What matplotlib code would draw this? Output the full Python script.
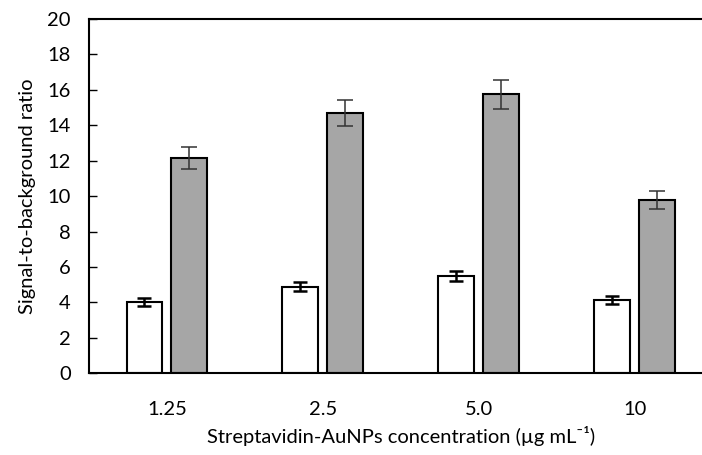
import matplotlib
matplotlib.use("Agg")
import matplotlib.pyplot as plt
import numpy as np

plt.rcParams["font.family"] = ["Lato", "DejaVu Sans"]

# values
concentrations = ["1.25", "2.5", "5.0", "10"]
white_vals = [4.02, 4.88, 5.50, 4.12]
white_err = [0.23, 0.25, 0.30, 0.22]
grey_vals = [12.18, 14.69, 15.74, 9.79]
grey_err = [0.62, 0.75, 0.80, 0.50]

x = np.arange(len(concentrations))
w = 0.23
off = 0.144

fig = plt.figure(figsize=(7.02, 4.55), dpi=100)
# axes run slightly past the right edge, as in the cropped original
ax = fig.add_axes([89 / 702, (455 - 373.3) / 455, (712.5 - 89) / 702, 354.3 / 455])

ax.bar(x - off, white_vals, w, color="white", edgecolor="black", linewidth=1.5, zorder=2)
ax.bar(x + off, grey_vals, w, color="#a6a6a6", edgecolor="black", linewidth=1.5, zorder=2)
ax.errorbar(x - off, white_vals, yerr=white_err, fmt="none", ecolor="black",
            elinewidth=1.8, capsize=5, capthick=1.8, zorder=3)
ax.errorbar(x + off, grey_vals, yerr=grey_err, fmt="none", ecolor="#333333",
            elinewidth=1.1, capsize=6, capthick=1.1, zorder=3)

ax.set_xlim(-0.5, len(x) - 0.5)
ax.set_ylim(0, 20)
ax.set_yticks(np.arange(0, 21, 2))
ax.set_xticks(x)
ax.set_xticklabels(concentrations)
ax.tick_params(axis="y", direction="in", length=6, width=1, labelsize=14.5, pad=13)
ax.tick_params(axis="x", length=0, labelsize=14.5, pad=20)
for s in ax.spines.values():
    s.set_linewidth(1.5)
ax.spines["right"].set_visible(False)

ax.set_ylabel("Signal-to-background ratio", fontsize=14.5, labelpad=8)
ax.set_xlabel("Streptavidin-AuNPs concentration (\u00b5g mL\u207b\u00b9)", fontsize=14.5, labelpad=6)

fig.savefig("out.png", dpi=100)
